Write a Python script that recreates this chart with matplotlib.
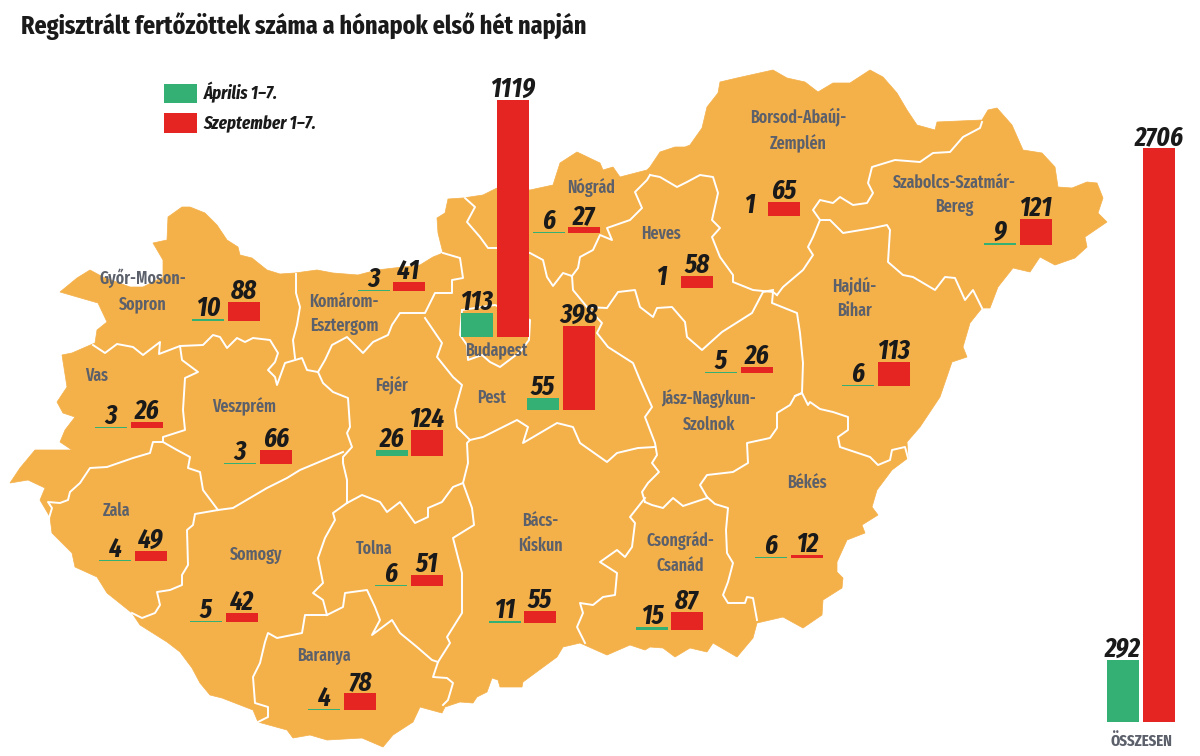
import matplotlib
matplotlib.use("Agg")
import matplotlib.pyplot as plt
from matplotlib.patches import Polygon, Patch

# ---------- data ----------
title = "Regisztrált fertőzöttek száma a hónapok első hét napján"
series_names = ["Április 1–7.", "Szeptember 1–7."]
april = [10, 3, 113, 55, 6, 1, 1, 9, 6, 5, 3, 3, 26, 4, 5, 6, 4, 11, 15, 6, 292]
september = [88, 41, 1119, 398, 27, 58, 65, 121, 113, 26, 26, 66, 124, 49, 42, 51, 78, 55, 87, 12, 2706]

# ---------- layout (pixels of the 1200x756 picture) ----------
PX_PER_CASE = 0.2121
BAR_W = 32
green_x = [192, 358, 461, 527, 533, 645, 733, 984, 842, 705, 95, 224, 376, 99, 190, 375, 308, 489, 636, 755, 1107]
red_x = [228, 393, 497, 563, 568, 681, 768, 1020, 878, 741, 131, 260, 411, 135, 226, 411, 344, 524, 671, 791, 1143]
base_y = [321, 291, 337, 410, 233, 288, 216, 245, 386, 373, 428, 464, 456, 561, 622, 586, 710, 623, 630, 558, 722]

region_labels = [
    ("Győr-Moson-\nSopron", 143, 291), ("Komárom-\nEsztergom", 344, 314), ("Budapest", 496, 351),
    ("Pest", 492, 398), ("Nógrád", 591, 188), ("Heves", 661, 234),
    ("Borsod-Abaúj-\nZemplén", 798, 130), ("Szabolcs-Szatmár-\nBereg", 954, 195), ("Hajdú-\nBihar", 854, 298),
    ("Jász-Nagykun-\nSzolnok", 709, 412), ("Vas", 97, 376), ("Veszprém", 244, 407),
    ("Fejér", 392, 386), ("Zala", 117, 511), ("Somogy", 256, 555), ("Tolna", 374, 549),
    ("Baranya", 324, 656), ("Bács-\nKiskun", 540, 533), ("Csongrád-\nCsanád", 680, 553), ("Békés", 807, 483),
]

# Map geometry: country outline and county borders
outline = [
 (168,217),(182,207),(190,207),(205,213),(217,225),(227,240),(238,247),(240,255),(252,258),(267,270),(280,274),
 (295,273),(317,270),(333,273),(358,275),(377,270),(420,265),(433,257),(443,253),(438,233),(437,218),(445,213),
 (448,199),(463,198),(483,195),(497,188),(530,190),(553,185),(560,163),(577,152),(600,163),(603,170),(613,167),
 (620,177),(647,170),(650,167),(660,152),(675,147),(685,147),(690,145),(702,128),(707,107),(718,93),(720,82),
 (737,78),(773,70),(787,78),(805,82),(818,92),(833,83),(850,83),(870,70),(883,77),(897,93),(907,110),(917,125),
 (935,130),(937,122),(982,120),(988,110),(997,108),(1012,125),(1023,150),(1042,153),(1055,167),(1058,187),
 (1072,188),(1087,182),(1097,183),(1103,198),(1098,213),(1107,222),(1085,237),(1087,247),(1075,258),(1055,265),
 (1040,257),(1030,272),(1013,268),(998,287),(990,308),(982,308),(970,323),(963,347),(967,357),(952,362),(940,397),
 (920,427),(907,442),(908,458),(892,470),(877,490),(872,507),(878,515),(862,525),(865,533),(847,540),(837,562),
 (837,572),(843,578),(842,588),(823,600),(822,615),(803,628),(783,617),(757,623),(753,638),(737,657),(713,643),
 (707,652),(690,648),(675,657),(663,648),(650,647),(645,650),(630,645),(607,655),(580,643),(563,647),(557,657),
 (523,682),(522,687),(500,687),(498,680),(492,678),(487,692),(477,697),(473,703),(460,702),(445,707),(442,713),
 (420,707),(413,722),(393,735),(383,747),(362,738),(327,740),(310,735),(293,738),(287,730),(258,722),(253,710),
 (222,698),(210,695),(200,683),(192,668),(180,652),(167,642),(140,625),(132,613),(107,593),(97,577),(75,567),
 (72,553),(52,533),(50,517),(40,500),(45,488),(28,480),(10,483),(20,468),(35,450),(72,450),(60,442),(65,430),
 (75,417),(63,413),(57,402),(67,387),(62,355),(72,353),(95,343),(97,330),(107,322),(98,303),(60,292),(77,278),
 (90,270),(103,277),(130,287),(143,287),(163,277),(163,260),(153,243),(167,240),
]
borders = [
 [(93,345),(105,353),(117,344),(133,347),(143,355),(160,342),(159,354),(180,346),(203,345),(213,335),(220,337),
  (227,348),(237,338),(245,342),(253,338),(270,340),(278,353),(275,362),(268,370),(275,377),(277,385),(285,363),
  (302,358),(307,370),(318,372)],
 [(296,274),(296,293),(300,307),(297,325),(293,340),(295,358)],
 [(180,346),(182,360),(198,372),(185,378),(183,410),(185,430),(163,437),(163,442),(153,442),(150,453),(133,458),
  (107,467),(90,468),(80,483),(70,492),(68,500),(60,503),(48,502),(52,508),(49,518)],
 [(163,442),(177,450),(190,457),(188,468),(200,472),(203,490),(218,510)],
 [(218,510),(195,514),(193,525),(187,530),(188,565),(182,575),(182,585),(170,590),(157,592),(160,605),(155,613),
  (142,618),(132,613)],
 [(218,510),(233,508),(267,488),(287,478),(300,470),(343,452)],
 [(318,372),(323,383),(333,392),(348,398),(350,427),(347,433),(352,447),(343,457),(343,463),(347,480),(347,503)],
 [(347,503),(333,513),(335,520),(325,538),(318,558),(323,583),(313,593),(323,600),(327,615)],
 [(327,615),(305,615),(302,633),(277,638),(268,633),(265,642),(260,663),(253,677),(255,703),(268,707),(268,717),(258,722)],
 [(327,615),(343,607),(345,593),(367,590),(375,607),(380,620),(372,635),(392,620),(400,633),(417,647),(432,660),(438,662)],
 [(347,503),(362,495),(380,502),(387,512),(400,502),(415,523),(428,517),(428,508),(442,502),(453,487),(463,483)],
 [(463,483),(472,508),(474,525),(453,538),(462,573),(462,613),(447,637),(450,643),(438,662),(433,677),(447,678),
  (453,683),(448,700),(443,705)],
 [(463,483),(468,463),(467,443),(470,440),(457,427),(455,410),(462,385),(453,377),(437,357),(442,343),(425,318)],
 [(318,372),(325,360),(332,345),(347,337),(363,353),(373,342),(388,335),(392,325),(400,313),(425,313),(435,293),
  (452,293),(452,280),(463,278),(460,258),(443,253)],
 [(465,198),(475,207),(467,222),(480,237),(488,248),(497,248),(530,253),(543,260),(547,277),(553,286),(563,273),(572,276)],
 [(572,276),(578,268),(580,257),(593,250),(600,235),(612,240),(607,228),(630,220),(642,208),(635,192),(647,180),(650,175)],
 [(650,175),(660,177),(677,187),(687,182),(700,175),(713,177),(718,193),(712,220),(720,228),(712,237),(720,257),
  (733,275),(733,282),(753,290),(773,292),(777,295)],
 [(572,276),(573,290),(587,307),(607,308),(618,292),(635,290),(640,307),(653,317),(657,308),(672,307),(685,322),
  (687,337),(702,350),(722,332),(752,313),(763,292),(773,290)],
 [(587,307),(602,323),(597,333),(608,347),(633,363),(640,380),(652,407),(645,417),(655,443),(657,455),(652,463),
  (659,472),(648,483),(642,492),(645,502)],
 [(470,440),(483,437),(517,420),(528,427),(523,443),(557,423),(573,427),(580,443),(607,462),(617,453),(638,448),(655,447)],
 [(645,498),(630,517),(635,523),(632,547),(625,557),(617,550),(600,562),(617,573),(615,595),(603,597),(593,605),
  (580,603),(583,613),(577,627),(585,643)],
 [(645,502),(652,505),(663,508),(673,498),(683,506),(707,498)],
 [(707,497),(700,485),(707,475),(733,472),(748,463),(747,443),(770,438),(777,428),(777,413),(790,405),(795,396),(802,393)],
 [(773,292),(772,303),(797,313),(800,333),(803,363),(802,393)],
 [(795,396),(802,393),(808,405),(810,402),(820,409),(833,412),(848,417),(848,430),(838,437),(840,447),(870,457),
  (878,465),(890,460),(892,450),(905,447),(908,458)],
 [(707,497),(715,504),(728,508),(726,530),(727,553),(733,563),(728,582),(723,595),(728,603),(745,603),(747,597),
  (753,598),(757,620)],
 [(982,122),(980,128),(963,137),(950,152),(933,153),(920,162),(895,160),(872,167),(868,183),(873,193),(867,203),
  (853,205),(840,197),(833,203),(820,200),(813,210),(820,220)],
 [(820,220),(813,237),(808,247),(813,255),(803,270),(783,287),(777,295)],
 [(820,220),(830,220),(843,233),(873,228),(887,225),(890,230),(888,262),(903,275),(913,277),(935,290),(945,277),
  (955,278),(965,300),(973,290),(982,308)],
 [(462,310),(495,305),(530,320),(529,340),(520,352),(500,367),(490,362),(482,355),(468,360),(467,345),(460,335),(462,310)],
]

# ---------- style ----------
C_MAP = "#F4B049"
C_GREEN = "#34B074"
C_RED = "#E52521"
C_LABEL = "#5B606B"
C_TEXT = "#1A1A1A"
NARROW = ["Fira Sans Extra Condensed", "Liberation Sans", "DejaVu Sans"]

fig = plt.figure(figsize=(12, 7.56), dpi=100)
ax = fig.add_axes([0, 0, 1, 1])
ax.set_xlim(0, 1200)
ax.set_ylim(756, 0)
ax.axis("off")

ax.add_patch(Polygon(outline, closed=True, facecolor=C_MAP, edgecolor=C_MAP, lw=0.5, zorder=1))
for line in borders:
    xs, ys = zip(*line)
    ax.plot(xs, ys, color="white", lw=1.4, solid_joinstyle="round", zorder=2)

ax.bar(green_x, [-v * PX_PER_CASE for v in april], width=BAR_W, bottom=base_y, align="edge", color=C_GREEN, zorder=3)
ax.bar(red_x, [-v * PX_PER_CASE for v in september], width=BAR_W, bottom=base_y, align="edge", color=C_RED, zorder=3)

for x, b, v in list(zip(green_x, base_y, april)) + list(zip(red_x, base_y, september)):
    ax.text(x + BAR_W / 2, b - v * PX_PER_CASE - 3, str(v), ha="center", va="baseline", family=NARROW,
            fontsize=19.5, fontweight="bold", fontstyle="italic", color=C_TEXT, zorder=5)

for text, x, y in region_labels:
    ax.text(x, y, text, ha="center", va="center", family=NARROW, fontsize=12.4, fontweight="semibold",
            color=C_LABEL, linespacing=1.5, zorder=4)

ax.text(1141, 741, "ÖSSZESEN", ha="center", va="center", family=NARROW, fontsize=11.5, fontweight="bold",
        color=C_LABEL, zorder=4)
ax.text(21, 34, title, ha="left", va="baseline", family=NARROW, fontsize=18.8, fontweight="bold", color=C_TEXT)

handles = [Patch(facecolor=C_GREEN), Patch(facecolor=C_RED)]
ax.legend(handles, series_names, loc="upper left", bbox_to_anchor=(164, 82), bbox_transform=ax.transData,
          frameon=False, borderpad=0, borderaxespad=0, handlelength=1.8, handleheight=1.25,
          handletextpad=0.36, labelspacing=0.55,
          prop={"family": NARROW, "size": 13.2, "weight": "bold", "style": "italic"}, labelcolor=C_TEXT)

fig.savefig("out.png", dpi=100)
